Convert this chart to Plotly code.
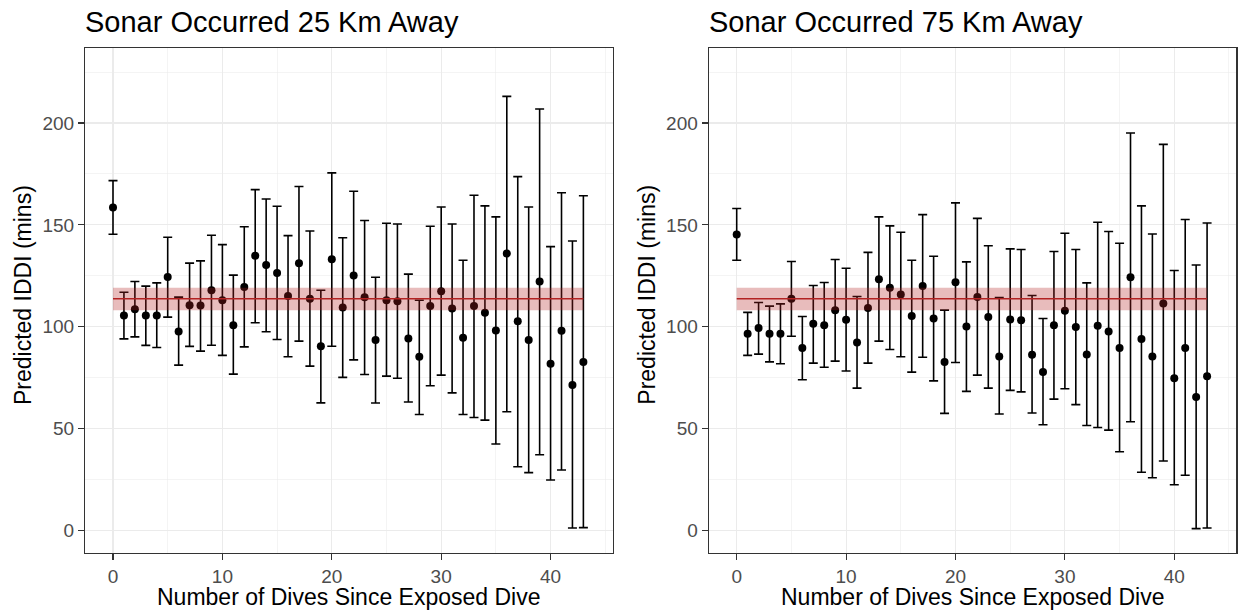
import plotly.graph_objects as go

# ---- data ----
dives = list(range(44))

mean25 = [158.5, 105.5, 108.6, 105.5, 105.5, 124.4, 97.6, 110.5, 110.4, 117.9, 113.0, 100.7,
          119.5, 134.8, 130.3, 126.4, 115.0, 131.2, 113.7, 90.4, 133.1, 109.4, 125.1, 114.5,
          93.5, 113.0, 112.5, 94.2, 85.2, 110.1, 117.4, 108.9, 94.5, 110.1, 106.8, 98.1,
          135.9, 102.7, 93.4, 122.2, 81.8, 98.0, 71.3, 82.7]
upper25 = [171.7, 116.9, 122.2, 119.9, 121.5, 143.9, 114.5, 131.2, 132.3, 144.9, 140.3, 125.3,
           149.1, 167.3, 162.7, 159.1, 144.7, 168.8, 147.0, 117.9, 175.5, 143.7, 166.5, 152.1,
           124.3, 150.8, 150.4, 125.8, 113.0, 149.3, 158.8, 150.4, 132.6, 164.5, 159.3, 153.9,
           213.1, 173.7, 158.8, 206.9, 139.3, 165.8, 142.1, 164.3]
lower25 = [145.4, 94.0, 95.0, 90.8, 89.8, 104.7, 81.1, 90.3, 88.0, 90.9, 85.9, 76.7,
           90.1, 101.9, 97.5, 93.7, 85.2, 92.9, 80.6, 62.6, 90.4, 75.1, 83.7, 76.5,
           62.5, 75.7, 74.7, 63.0, 56.9, 71.0, 76.2, 67.5, 56.9, 55.4, 54.1, 42.4,
           58.2, 31.2, 28.3, 37.1, 24.7, 29.6, 1.1, 1.3]

mean75 = [145.2, 96.5, 99.3, 96.5, 96.5, 113.7, 89.5, 101.4, 100.7, 108.1, 103.4, 92.2,
          109.2, 123.3, 119.1, 115.8, 105.2, 120.0, 104.0, 82.6, 121.8, 100.1, 114.6, 104.7,
          85.4, 103.5, 103.2, 86.2, 77.7, 100.7, 107.8, 99.8, 86.3, 100.4, 97.6, 89.5,
          124.3, 93.9, 85.4, 111.4, 74.7, 89.5, 65.4, 75.7]
upper75 = [158.0, 107.0, 111.9, 110.1, 111.2, 132.0, 105.0, 120.2, 121.7, 133.0, 128.7, 114.8,
           136.5, 153.9, 149.5, 146.4, 132.6, 155.0, 134.6, 108.1, 160.8, 131.8, 153.2, 139.7,
           114.3, 138.2, 137.9, 115.3, 104.0, 136.9, 145.9, 137.9, 121.5, 151.3, 146.7, 141.0,
           195.1, 159.3, 145.5, 189.5, 127.6, 152.6, 130.3, 150.9]
lower75 = [132.6, 85.9, 86.5, 82.7, 81.8, 95.3, 73.9, 82.1, 80.1, 83.1, 78.2, 69.8,
           82.1, 92.9, 88.8, 85.2, 77.7, 85.0, 73.4, 57.4, 82.4, 68.2, 76.2, 69.8,
           57.1, 68.7, 68.0, 57.6, 51.8, 64.4, 69.5, 61.7, 51.5, 50.5, 49.2, 38.6,
           53.3, 28.5, 25.8, 34.0, 22.4, 27.0, 0.8, 1.1]

baseline_mean = 113.7
baseline_low = 108.1
baseline_high = 119.1

titles = ["Sonar Occurred 25 Km Away", "Sonar Occurred 75 Km Away"]
x_title = "Number of Dives Since Exposed Dive"
y_title = "Predicted IDDI (mins)"

# ---- layout geometry (page body margin removed by post_script) ----
W, H = 1238, 611
FONT = "Arial, Liberation Sans, sans-serif"
panels = [(85.0, 612.7), (708.7, 1236.4)]
ptop, pbot = 48.3, 552.7

fig = go.Figure()

series = [(mean25, upper25, lower25), (mean75, upper75, lower75)]
for i, (m, up, lo) in enumerate(series):
    ax = "" if i == 0 else "2"
    fig.add_trace(go.Scatter(
        x=dives, y=m, mode="markers",
        marker=dict(color="black", size=8),
        error_y=dict(type="data", symmetric=False,
                     array=[u - v for u, v in zip(up, m)],
                     arrayminus=[v - l for v, l in zip(m, lo)],
                     color="black", thickness=1.6, width=4.5),
        xaxis="x" + ax, yaxis="y" + ax, showlegend=False, hoverinfo="skip"))

    xr, yr = "x" + ax, "y" + ax
    fig.add_shape(type="rect", xref=xr, yref=yr, x0=dives[0], x1=dives[-1],
                  y0=baseline_low, y1=baseline_high,
                  fillcolor="rgba(178,34,34,0.3)", line=dict(width=0), layer="above")
    fig.add_shape(type="line", xref=xr, yref=yr, x0=dives[0], x1=dives[-1],
                  y0=baseline_mean, y1=baseline_mean,
                  line=dict(color="#B22222", width=1.6), layer="above")

axis_common = dict(showline=True, mirror=True, linecolor="#333333", linewidth=1.1,
                   ticks="outside", ticklen=6, tickwidth=1.1, tickcolor="#333333",
                   tickfont=dict(family=FONT, size=19, color="#4D4D4D"),
                   showgrid=True, gridcolor="#EBEBEB", gridwidth=1.1, zeroline=False)

layout = dict(width=W, height=H, margin=dict(l=0, r=0, t=0, b=0),
              paper_bgcolor="white", plot_bgcolor="white", showlegend=False,
              font=dict(family=FONT))

ydom = [1 - pbot / H, 1 - ptop / H]
for i, (l, r) in enumerate(panels):
    ax = "" if i == 0 else "2"
    xa = dict(axis_common, domain=[l / W, r / W], range=[-2.56, 45.68],
              tickmode="linear", tick0=0, dtick=10,
              minor=dict(dtick=5, tick0=0, showgrid=True, gridcolor="#EBEBEB", gridwidth=0.55, ticks=""),
              anchor="y" + ax)
    ya = dict(axis_common, domain=ydom, range=[-11.0, 236.7],
              tickmode="linear", tick0=0, dtick=50,
              minor=dict(dtick=25, tick0=0, showgrid=True, gridcolor="#EBEBEB", gridwidth=0.55, ticks=""),
              anchor="x" + ax)
    layout["xaxis" + ax] = xa
    layout["yaxis" + ax] = ya

annotations = []
for i, (l, r) in enumerate(panels):
    annotations.append(dict(text=titles[i], xref="paper", yref="paper",
                            x=(l - 2) / W, y=1 - 22 / H, xanchor="left", yanchor="middle",
                            showarrow=False, font=dict(family=FONT, size=29, color="black")))
    annotations.append(dict(text=x_title, xref="paper", yref="paper",
                            x=(l + r) / 2 / W, y=1 - 597 / H, xanchor="center", yanchor="middle",
                            showarrow=False, font=dict(family=FONT, size=23, color="black")))
    annotations.append(dict(text=y_title, xref="paper", yref="paper",
                            x=(l - 62) / W, y=1 - 295 / H, xanchor="center", yanchor="middle",
                            textangle=-90,
                            showarrow=False, font=dict(family=FONT, size=23, color="black")))
layout["annotations"] = annotations

fig.update_layout(**layout)
fig.write_html("out.html",
               config={"displayModeBar": False, "staticPlot": True},
               post_script="document.body.style.margin='0';document.body.style.overflow='hidden';")
